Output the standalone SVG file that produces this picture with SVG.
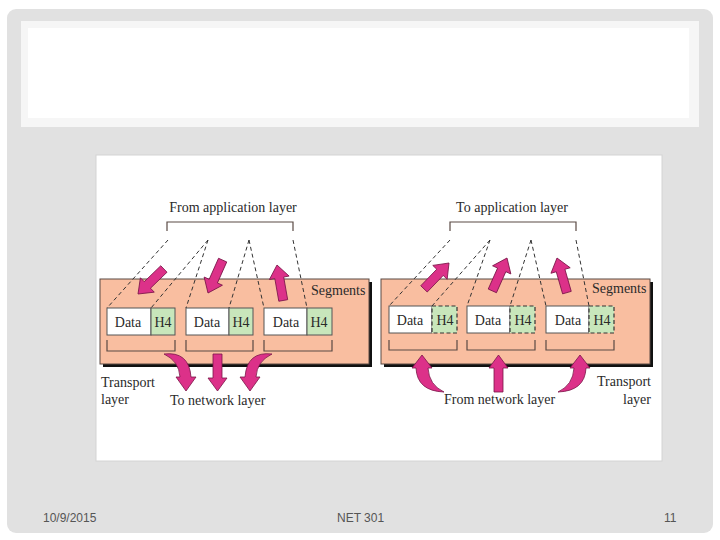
<svg xmlns="http://www.w3.org/2000/svg" xmlns:xlink="http://www.w3.org/1999/xlink" width="720" height="540" viewBox="0 0 720 540">
<style>
.t{font-family:"Liberation Serif","Times New Roman",serif;font-size:14px;fill:#2a2a2a}
.f{font-family:"Liberation Sans",Arial,sans-serif;font-size:12px;fill:#555}
.layer{fill:#f9bea0;stroke:#5a4a44;stroke-width:1}
.shadow{fill:#111}
.data{fill:#fff;stroke:#555;stroke-width:1}
.h4{fill:#c8e6bb;stroke:#555;stroke-width:1}
.h4d{fill:#c8e6bb;stroke:#333;stroke-width:1.2;stroke-dasharray:4 2.5}
.br{fill:none;stroke:#5a4a44;stroke-width:1.2}
.dash{fill:none;stroke:#333;stroke-width:1;stroke-dasharray:4 3}
.arr{fill:#dc3189;stroke:#7a1548;stroke-width:0.8}
</style>
<defs>
<path id="up" d="M0,0 L10,13 L4.5,13 L4.5,36 L-4.5,36 L-4.5,13 L-10,13 Z"/>
</defs>
<rect width="720" height="540" fill="#fff"/>
<rect x="7" y="9" width="706" height="524" rx="9" fill="#e1e1e1"/>
<rect x="21" y="21" width="678" height="106" fill="#f6f6f6"/>
<rect x="28" y="28" width="661" height="90" fill="#fff"/>
<rect x="96" y="155" width="566" height="306" fill="#fff" stroke="#d4d4d4" stroke-width="1"/>

<g id="left-panel">
<rect class="shadow" x="103" y="282" width="269" height="85"/>
<rect class="layer" x="100" y="279" width="269" height="85"/>
<text class="t" x="311" y="295">Segments</text>
</g>
<g id="right-panel">
<rect class="shadow" x="384" y="282" width="269" height="85"/>
<rect class="layer" x="381" y="279" width="269" height="85"/>
<text class="t" x="592" y="293">Segments</text>
</g>

<g id="app-from">
<text class="t" x="233" y="212" text-anchor="middle">From application layer</text>
<path class="br" d="M167,231 L167,222 L293,222 L293,231"/>
</g>
<g id="app-to">
<text class="t" x="512" y="212" text-anchor="middle">To application layer</text>
<path class="br" d="M450,231 L450,222 L576,222 L576,231"/>
</g>

<g id="seg-l1">
<rect class="data" x="107" y="308" width="44" height="27"/>
<rect class="h4" x="151" y="308" width="24" height="27"/>
<text class="t" x="128" y="327" text-anchor="middle">Data</text>
<text class="t" x="163" y="327" text-anchor="middle">H4</text>
<path class="br" d="M107,340 L107,351 L175,351 L175,340"/>
</g>
<g id="seg-l2">
<rect class="data" x="186" y="308" width="43" height="27"/>
<rect class="h4" x="229" y="308" width="24" height="27"/>
<text class="t" x="207" y="327" text-anchor="middle">Data</text>
<text class="t" x="241" y="327" text-anchor="middle">H4</text>
<path class="br" d="M186,340 L186,351 L253,351 L253,340"/>
</g>
<g id="seg-l3">
<rect class="data" x="264" y="308" width="43" height="27"/>
<rect class="h4" x="307" y="308" width="25" height="27"/>
<text class="t" x="286" y="327" text-anchor="middle">Data</text>
<text class="t" x="319" y="327" text-anchor="middle">H4</text>
<path class="br" d="M264,340 L264,351 L332,351 L332,340"/>
</g>

<g id="seg-r1">
<rect class="data" x="389" y="306" width="43" height="27"/>
<rect class="h4d" x="432" y="306" width="25" height="27"/>
<text class="t" x="410" y="325" text-anchor="middle">Data</text>
<text class="t" x="445" y="325" text-anchor="middle">H4</text>
<path class="br" d="M389,340 L389,350 L457,350 L457,340"/>
</g>
<g id="seg-r2">
<rect class="data" x="467" y="306" width="43" height="27"/>
<rect class="h4d" x="510" y="306" width="25" height="27"/>
<text class="t" x="488" y="325" text-anchor="middle">Data</text>
<text class="t" x="523" y="325" text-anchor="middle">H4</text>
<path class="br" d="M467,340 L467,350 L535,350 L535,340"/>
</g>
<g id="seg-r3">
<rect class="data" x="546" y="306" width="43" height="27"/>
<rect class="h4d" x="589" y="306" width="25" height="27"/>
<text class="t" x="568" y="325" text-anchor="middle">Data</text>
<text class="t" x="602" y="325" text-anchor="middle">H4</text>
<path class="br" d="M546,340 L546,350 L614,350 L614,340"/>
</g>

<g id="labels">
<text class="t" x="101" y="387">Transport</text>
<text class="t" x="101" y="404">layer</text>
<text class="t" x="170" y="405">To network layer</text>
<text class="t" x="651" y="386" text-anchor="end">Transport</text>
<text class="t" x="651" y="404" text-anchor="end">layer</text>
<text class="t" x="444" y="404">From network layer</text>
</g>

<g id="connectors">
<path class="dash" d="M168,240 L107,308 M208,240 L151,308 M208,240 L186,308 M249,240 L229,308 M249,240 L264,308 M293,240 L307,308"/>
<path class="dash" d="M450,240 L389,306 M490,240 L432,306 M490,240 L467,306 M531,240 L510,306 M531,240 L546,306 M576,240 L589,306"/>
<use xlink:href="#up" class="arr" transform="translate(138,294) rotate(-134)"/>
<use xlink:href="#up" class="arr" transform="translate(208,293) rotate(204)"/>
<use xlink:href="#up" class="arr" transform="translate(277,265) rotate(-10)"/>
<use xlink:href="#up" class="arr" transform="translate(449,263) rotate(44)"/>
<use xlink:href="#up" class="arr" transform="translate(507,258) rotate(24)"/>
<use xlink:href="#up" class="arr" transform="translate(557,258) rotate(-16)"/>
<path class="arr" d="M164,354 Q189,351 191,377 L196,377 L186,391 L176,377 L180,377 Q179,361 164,354 Z"/>
<path class="arr" d="M213,354 L222,354 L222,378 L227,378 L217.5,391 L208,378 L213,378 Z"/>
<path class="arr" d="M272,354 Q247,351 245,377 L240,377 L250,391 L260,377 L256,377 Q257,361 272,354 Z"/>
<path class="arr" d="M444,392 Q417,391 416,368 L412,368 L422,355 L432,368 L428,368 Q429,385 444,392 Z"/>
<path class="arr" d="M494,392 L503,392 L503,368 L508,368 L498.5,355 L489,368 L494,368 Z"/>
<path class="arr" d="M558,392 Q585,391 586,368 L590,368 L580,355 L570,368 L574,368 Q573,385 558,392 Z"/>
</g>

<g id="footer">
<text class="f" x="43" y="522">10/9/2015</text>
<text class="f" x="337" y="522">NET 301</text>
<text class="f" x="664" y="522">11</text>
</g>
</svg>
